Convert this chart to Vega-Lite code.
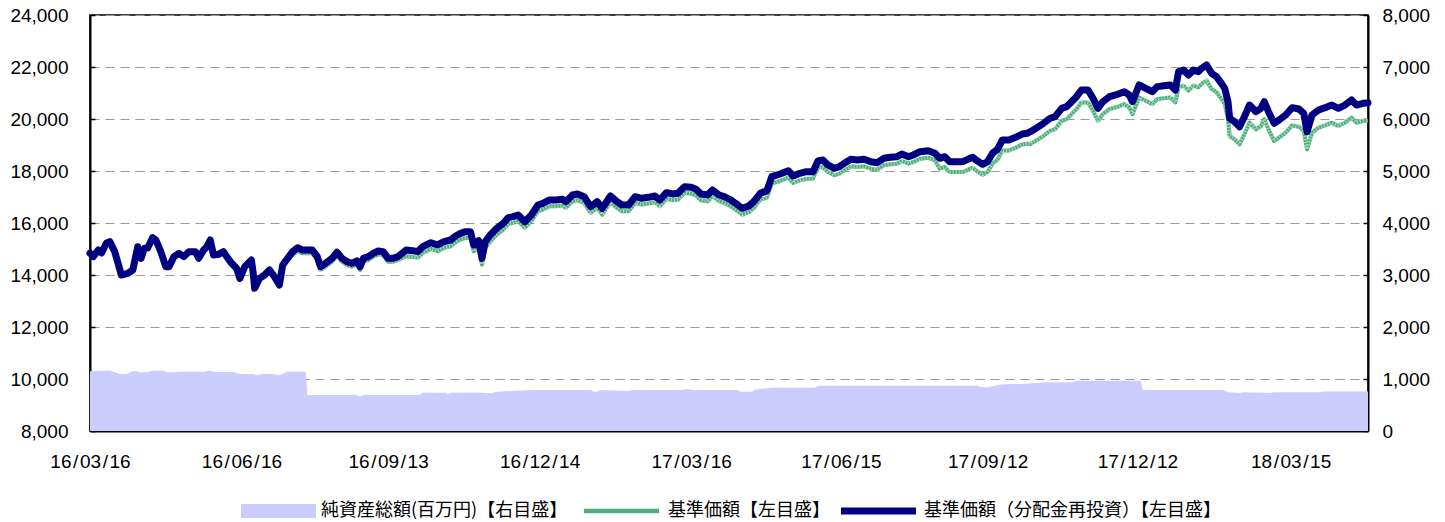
{
 "$schema": "https://vega.github.io/schema/vega-lite/v6.json",
 "width": 1278,
 "height": 416,
 "autosize": {"type": "none"},
 "padding": {"left": 90, "top": 15, "right": 77, "bottom": 91},
 "background": "white",
 "config": {
  "view": {"stroke": "#000", "strokeWidth": 1.5},
  "font": "Liberation Sans",
  "axis": {"labelFont": "Liberation Sans", "labelFontSize": 19, "labelColor": "#000", "domainColor": "#000", "domainWidth": 2, "tickColor": "#000", "tickWidth": 1.5, "tickSize": -5, "title": null},
  "legend": {"orient": "none", "direction": "horizontal", "title": null, "symbolSize": 100, "labelFont": "Noto Sans CJK JP", "labelFontSize": 18, "labelColor": "#000", "labelLimit": 0, "symbolStrokeWidth": 0, "symbolOpacity": 1}
 },
 "datasets": {
  "assets": [
   {"d": "2016-03-16", "v": 1150}, {"d": "2016-03-22", "v": 1160}, {"d": "2016-03-28", "v": 1165}, {"d": "2016-04-03", "v": 1096}, {"d": "2016-04-07", "v": 1096}, {"d": "2016-04-12", "v": 1160}, {"d": "2016-04-15", "v": 1130}, {"d": "2016-04-20", "v": 1130}, {"d": "2016-04-23", "v": 1165}, {"d": "2016-04-29", "v": 1160}, {"d": "2016-05-02", "v": 1130}, {"d": "2016-05-05", "v": 1130}, {"d": "2016-05-10", "v": 1141}, {"d": "2016-05-24", "v": 1141}, {"d": "2016-05-27", "v": 1160}, {"d": "2016-06-01", "v": 1135}, {"d": "2016-06-11", "v": 1135}, {"d": "2016-06-15", "v": 1096}, {"d": "2016-06-23", "v": 1096}, {"d": "2016-06-25", "v": 1070}, {"d": "2016-06-29", "v": 1096}, {"d": "2016-07-05", "v": 1096}, {"d": "2016-07-09", "v": 1070}, {"d": "2016-07-14", "v": 1141}, {"d": "2016-07-25", "v": 1141}, {"d": "2016-07-26", "v": 692}, {"d": "2016-08-25", "v": 692}, {"d": "2016-08-27", "v": 665}, {"d": "2016-08-30", "v": 692}, {"d": "2016-10-02", "v": 692}, {"d": "2016-10-04", "v": 737}, {"d": "2016-10-18", "v": 737}, {"d": "2016-10-19", "v": 700}, {"d": "2016-10-21", "v": 737}, {"d": "2016-11-05", "v": 740}, {"d": "2016-11-15", "v": 725}, {"d": "2016-11-18", "v": 756}, {"d": "2016-12-10", "v": 788}, {"d": "2017-01-14", "v": 788}, {"d": "2017-01-16", "v": 756}, {"d": "2017-01-18", "v": 756}, {"d": "2017-01-20", "v": 788}, {"d": "2017-02-06", "v": 770}, {"d": "2017-02-09", "v": 788}, {"d": "2017-03-11", "v": 788}, {"d": "2017-03-13", "v": 808}, {"d": "2017-03-17", "v": 788}, {"d": "2017-04-13", "v": 788}, {"d": "2017-04-15", "v": 756}, {"d": "2017-04-22", "v": 756}, {"d": "2017-04-24", "v": 800}, {"d": "2017-05-04", "v": 833}, {"d": "2017-05-30", "v": 833}, {"d": "2017-06-01", "v": 872}, {"d": "2017-09-06", "v": 872}, {"d": "2017-09-08", "v": 840}, {"d": "2017-09-12", "v": 840}, {"d": "2017-09-21", "v": 897}, {"d": "2017-10-05", "v": 910}, {"d": "2017-10-17", "v": 936}, {"d": "2017-11-03", "v": 936}, {"d": "2017-11-05", "v": 968}, {"d": "2017-12-14", "v": 968}, {"d": "2017-12-15", "v": 801}, {"d": "2017-12-17", "v": 788}, {"d": "2018-02-02", "v": 788}, {"d": "2018-02-05", "v": 744}, {"d": "2018-02-12", "v": 730}, {"d": "2018-02-15", "v": 744}, {"d": "2018-03-02", "v": 730}, {"d": "2018-03-05", "v": 744}, {"d": "2018-04-02", "v": 744}, {"d": "2018-04-04", "v": 760}, {"d": "2018-05-01", "v": 760}
  ],
  "lines": [
   {"d": "2016-03-16", "nav": 14834, "base": 14834}, {"d": "2016-03-18", "nav": 14706, "base": 14706}, {"d": "2016-03-21", "nav": 14962, "base": 14962}, {"d": "2016-03-23", "nav": 14846, "base": 14846}, {"d": "2016-03-26", "nav": 15231, "base": 15231}, {"d": "2016-03-28", "nav": 15282, "base": 15282}, {"d": "2016-03-31", "nav": 14898, "base": 14898}, {"d": "2016-04-02", "nav": 14462, "base": 14462}, {"d": "2016-04-04", "nav": 14000, "base": 14000}, {"d": "2016-04-08", "nav": 14066, "base": 14066}, {"d": "2016-04-11", "nav": 14193, "base": 14193}, {"d": "2016-04-14", "nav": 15089, "base": 15089}, {"d": "2016-04-16", "nav": 14642, "base": 14642}, {"d": "2016-04-18", "nav": 15026, "base": 15026}, {"d": "2016-04-20", "nav": 15038, "base": 15038}, {"d": "2016-04-23", "nav": 15435, "base": 15435}, {"d": "2016-04-25", "nav": 15346, "base": 15346}, {"d": "2016-04-28", "nav": 14898, "base": 14898}, {"d": "2016-05-01", "nav": 14321, "base": 14321}, {"d": "2016-05-03", "nav": 14321, "base": 14321}, {"d": "2016-05-06", "nav": 14706, "base": 14706}, {"d": "2016-05-09", "nav": 14834, "base": 14834}, {"d": "2016-05-12", "nav": 14706, "base": 14706}, {"d": "2016-05-15", "nav": 14898, "base": 14898}, {"d": "2016-05-19", "nav": 14898, "base": 14898}, {"d": "2016-05-21", "nav": 14642, "base": 14642}, {"d": "2016-05-24", "nav": 14962, "base": 14962}, {"d": "2016-05-26", "nav": 15089, "base": 15089}, {"d": "2016-05-28", "nav": 15346, "base": 15346}, {"d": "2016-05-30", "nav": 14770, "base": 14770}, {"d": "2016-06-02", "nav": 14796, "base": 14796}, {"d": "2016-06-05", "nav": 14898, "base": 14898}, {"d": "2016-06-07", "nav": 14706, "base": 14706}, {"d": "2016-06-10", "nav": 14450, "base": 14450}, {"d": "2016-06-13", "nav": 14258, "base": 14258}, {"d": "2016-06-15", "nav": 13873, "base": 13873}, {"d": "2016-06-18", "nav": 14321, "base": 14321}, {"d": "2016-06-22", "nav": 14577, "base": 14577}, {"d": "2016-06-23", "nav": 14129, "base": 14129}, {"d": "2016-06-24", "nav": 13488, "base": 13488}, {"d": "2016-06-27", "nav": 13873, "base": 13873}, {"d": "2016-06-30", "nav": 14000, "base": 14000}, {"d": "2016-07-03", "nav": 14193, "base": 14193}, {"d": "2016-07-06", "nav": 13937, "base": 13937}, {"d": "2016-07-09", "nav": 13615, "base": 13615}, {"d": "2016-07-11", "nav": 14385, "base": 14385}, {"d": "2016-07-14", "nav": 14642, "base": 14642},
   {"d": "2016-07-17", "nav": 14898, "base": 14768}, {"d": "2016-07-20", "nav": 15051, "base": 14921}, {"d": "2016-07-23", "nav": 14962, "base": 14832}, {"d": "2016-07-26", "nav": 14962, "base": 14832}, {"d": "2016-07-29", "nav": 14962, "base": 14832}, {"d": "2016-08-01", "nav": 14706, "base": 14576}, {"d": "2016-08-03", "nav": 14321, "base": 14191}, {"d": "2016-08-06", "nav": 14450, "base": 14320}, {"d": "2016-08-10", "nav": 14642, "base": 14512}, {"d": "2016-08-13", "nav": 14872, "base": 14742}, {"d": "2016-08-16", "nav": 14642, "base": 14512}, {"d": "2016-08-19", "nav": 14513, "base": 14383}, {"d": "2016-08-22", "nav": 14450, "base": 14320}, {"d": "2016-08-25", "nav": 14539, "base": 14409}, {"d": "2016-08-27", "nav": 14321, "base": 14191}, {"d": "2016-08-29", "nav": 14642, "base": 14512}, {"d": "2016-09-01", "nav": 14706, "base": 14576}, {"d": "2016-09-04", "nav": 14834, "base": 14704}, {"d": "2016-09-07", "nav": 14924, "base": 14794}, {"d": "2016-09-10", "nav": 14898, "base": 14768}, {"d": "2016-09-13", "nav": 14642, "base": 14512}, {"d": "2016-09-16", "nav": 14642, "base": 14512}, {"d": "2016-09-19", "nav": 14706, "base": 14576},
   {"d": "2016-09-24", "nav": 14962, "base": 14722}, {"d": "2016-09-28", "nav": 14936, "base": 14696}, {"d": "2016-10-01", "nav": 14898, "base": 14658}, {"d": "2016-10-04", "nav": 15089, "base": 14849}, {"d": "2016-10-09", "nav": 15243, "base": 15003}, {"d": "2016-10-13", "nav": 15154, "base": 14914}, {"d": "2016-10-17", "nav": 15282, "base": 15042}, {"d": "2016-10-21", "nav": 15346, "base": 15106}, {"d": "2016-10-24", "nav": 15500, "base": 15260}, {"d": "2016-10-27", "nav": 15603, "base": 15363}, {"d": "2016-10-30", "nav": 15667, "base": 15427}, {"d": "2016-11-02", "nav": 15667, "base": 15427}, {"d": "2016-11-04", "nav": 15154, "base": 14914}, {"d": "2016-11-07", "nav": 15320, "base": 15080}, {"d": "2016-11-09", "nav": 14642, "base": 14402}, {"d": "2016-11-11", "nav": 15282, "base": 15042}, {"d": "2016-11-14", "nav": 15538, "base": 15298}, {"d": "2016-11-18", "nav": 15795, "base": 15555}, {"d": "2016-11-22", "nav": 15988, "base": 15748}, {"d": "2016-11-25", "nav": 16205, "base": 15965}, {"d": "2016-11-28", "nav": 16244, "base": 16004}, {"d": "2016-12-01", "nav": 16308, "base": 16068}, {"d": "2016-12-05", "nav": 16051, "base": 15811}, {"d": "2016-12-09", "nav": 16308, "base": 16068}, {"d": "2016-12-13", "nav": 16693, "base": 16453}, {"d": "2016-12-16", "nav": 16757, "base": 16517}, {"d": "2016-12-20", "nav": 16885, "base": 16645}, {"d": "2016-12-24", "nav": 16885, "base": 16645}, {"d": "2016-12-28", "nav": 16911, "base": 16671}, {"d": "2016-12-30", "nav": 16821, "base": 16581}, {"d": "2017-01-03", "nav": 17077, "base": 16837}, {"d": "2017-01-06", "nav": 17116, "base": 16876}, {"d": "2017-01-10", "nav": 17013, "base": 16773}, {"d": "2017-01-14", "nav": 16628, "base": 16388}, {"d": "2017-01-18", "nav": 16821, "base": 16581}, {"d": "2017-01-21", "nav": 16564, "base": 16324}, {"d": "2017-01-26", "nav": 17039, "base": 16799}, {"d": "2017-01-30", "nav": 16821, "base": 16581}, {"d": "2017-02-02", "nav": 16693, "base": 16453}, {"d": "2017-02-06", "nav": 16693, "base": 16453}, {"d": "2017-02-10", "nav": 17013, "base": 16773}, {"d": "2017-02-14", "nav": 16950, "base": 16710}, {"d": "2017-02-18", "nav": 16988, "base": 16748}, {"d": "2017-02-22", "nav": 17039, "base": 16799}, {"d": "2017-02-25", "nav": 16885, "base": 16645}, {"d": "2017-03-01", "nav": 17167, "base": 16927}, {"d": "2017-03-05", "nav": 17116, "base": 16876}, {"d": "2017-03-08", "nav": 17142, "base": 16902}, {"d": "2017-03-12", "nav": 17398, "base": 17158}, {"d": "2017-03-16", "nav": 17372, "base": 17132}, {"d": "2017-03-19", "nav": 17295, "base": 17055}, {"d": "2017-03-22", "nav": 17116, "base": 16876}, {"d": "2017-03-26", "nav": 17077, "base": 16837}, {"d": "2017-03-29", "nav": 17270, "base": 17030}, {"d": "2017-04-02", "nav": 17077, "base": 16837}, {"d": "2017-04-05", "nav": 17013, "base": 16773}, {"d": "2017-04-09", "nav": 16885, "base": 16645}, {"d": "2017-04-12", "nav": 16757, "base": 16517}, {"d": "2017-04-16", "nav": 16564, "base": 16324}, {"d": "2017-04-20", "nav": 16654, "base": 16414}, {"d": "2017-04-23", "nav": 16821, "base": 16581}, {"d": "2017-04-27", "nav": 17142, "base": 16902},
   {"d": "2017-05-01", "nav": 17244, "base": 16974}, {"d": "2017-05-04", "nav": 17782, "base": 17512}, {"d": "2017-05-09", "nav": 17885, "base": 17615}, {"d": "2017-05-14", "nav": 18012, "base": 17742}, {"d": "2017-05-17", "nav": 17808, "base": 17538}, {"d": "2017-05-21", "nav": 17911, "base": 17641}, {"d": "2017-05-25", "nav": 17974, "base": 17704}, {"d": "2017-05-29", "nav": 17974, "base": 17704}, {"d": "2017-06-01", "nav": 18385, "base": 18115}, {"d": "2017-06-04", "nav": 18423, "base": 18153}, {"d": "2017-06-07", "nav": 18231, "base": 17961}, {"d": "2017-06-11", "nav": 18104, "base": 17834}, {"d": "2017-06-14", "nav": 18167, "base": 17897}, {"d": "2017-06-17", "nav": 18295, "base": 18025}, {"d": "2017-06-21", "nav": 18449, "base": 18179}, {"d": "2017-06-25", "nav": 18423, "base": 18153}, {"d": "2017-06-29", "nav": 18449, "base": 18179}, {"d": "2017-07-03", "nav": 18359, "base": 18089}, {"d": "2017-07-07", "nav": 18320, "base": 18050}, {"d": "2017-07-11", "nav": 18488, "base": 18218}, {"d": "2017-07-15", "nav": 18526, "base": 18256}, {"d": "2017-07-19", "nav": 18551, "base": 18281}, {"d": "2017-07-22", "nav": 18654, "base": 18384}, {"d": "2017-07-26", "nav": 18551, "base": 18281}, {"d": "2017-07-29", "nav": 18616, "base": 18346}, {"d": "2017-08-02", "nav": 18743, "base": 18473}, {"d": "2017-08-07", "nav": 18782, "base": 18512}, {"d": "2017-08-11", "nav": 18680, "base": 18410},
   {"d": "2017-08-14", "nav": 18488, "base": 18088}, {"d": "2017-08-17", "nav": 18551, "base": 18151}, {"d": "2017-08-20", "nav": 18359, "base": 17959}, {"d": "2017-08-24", "nav": 18359, "base": 17959}, {"d": "2017-08-28", "nav": 18359, "base": 17959}, {"d": "2017-08-31", "nav": 18449, "base": 18049}, {"d": "2017-09-03", "nav": 18526, "base": 18126}, {"d": "2017-09-05", "nav": 18423, "base": 18023}, {"d": "2017-09-09", "nav": 18257, "base": 17857}, {"d": "2017-09-12", "nav": 18359, "base": 17959}, {"d": "2017-09-15", "nav": 18680, "base": 18280}, {"d": "2017-09-18", "nav": 18834, "base": 18434}, {"d": "2017-09-21", "nav": 19192, "base": 18792}, {"d": "2017-09-25", "nav": 19192, "base": 18792}, {"d": "2017-09-29", "nav": 19295, "base": 18895}, {"d": "2017-10-03", "nav": 19423, "base": 19023}, {"d": "2017-10-06", "nav": 19449, "base": 19049},
   {"d": "2017-10-08", "nav": 19512, "base": 19032}, {"d": "2017-10-12", "nav": 19667, "base": 19187}, {"d": "2017-10-16", "nav": 19834, "base": 19354}, {"d": "2017-10-20", "nav": 20027, "base": 19547}, {"d": "2017-10-23", "nav": 20090, "base": 19610}, {"d": "2017-10-27", "nav": 20411, "base": 19931}, {"d": "2017-10-30", "nav": 20474, "base": 19994}, {"d": "2017-11-02", "nav": 20666, "base": 20186}, {"d": "2017-11-05", "nav": 20858, "base": 20378}, {"d": "2017-11-08", "nav": 21116, "base": 20636}, {"d": "2017-11-12", "nav": 21116, "base": 20636}, {"d": "2017-11-15", "nav": 20796, "base": 20316}, {"d": "2017-11-18", "nav": 20411, "base": 19931}, {"d": "2017-11-21", "nav": 20666, "base": 20186}, {"d": "2017-11-25", "nav": 20858, "base": 20378}, {"d": "2017-11-30", "nav": 20950, "base": 20470}, {"d": "2017-12-04", "nav": 21051, "base": 20571}, {"d": "2017-12-07", "nav": 20923, "base": 20443}, {"d": "2017-12-09", "nav": 20666, "base": 20186}, {"d": "2017-12-13", "nav": 21308, "base": 20828}, {"d": "2017-12-17", "nav": 21180, "base": 20700}, {"d": "2017-12-21", "nav": 21051, "base": 20571}, {"d": "2017-12-24", "nav": 21244, "base": 20764}, {"d": "2017-12-28", "nav": 21282, "base": 20802}, {"d": "2018-01-01", "nav": 21308, "base": 20828}, {"d": "2018-01-04", "nav": 21116, "base": 20636},
   {"d": "2018-01-06", "nav": 21820, "base": 21220}, {"d": "2018-01-09", "nav": 21885, "base": 21285}, {"d": "2018-01-12", "nav": 21692, "base": 21092}, {"d": "2018-01-15", "nav": 21885, "base": 21285}, {"d": "2018-01-18", "nav": 21820, "base": 21220}, {"d": "2018-01-20", "nav": 21950, "base": 21350}, {"d": "2018-01-23", "nav": 22077, "base": 21477}, {"d": "2018-01-26", "nav": 21757, "base": 21157}, {"d": "2018-01-29", "nav": 21628, "base": 21028}, {"d": "2018-02-01", "nav": 21372, "base": 20772}, {"d": "2018-02-03", "nav": 21180, "base": 20580},
   {"d": "2018-02-05", "nav": 20666, "base": 19986}, {"d": "2018-02-06", "nav": 20027, "base": 19347}, {"d": "2018-02-09", "nav": 19897, "base": 19217}, {"d": "2018-02-12", "nav": 19705, "base": 19025}, {"d": "2018-02-15", "nav": 20090, "base": 19410}, {"d": "2018-02-18", "nav": 20538, "base": 19858}, {"d": "2018-02-22", "nav": 20282, "base": 19602}, {"d": "2018-02-25", "nav": 20411, "base": 19731}, {"d": "2018-02-27", "nav": 20666, "base": 19986}, {"d": "2018-03-02", "nav": 20219, "base": 19539}, {"d": "2018-03-05", "nav": 19834, "base": 19154}, {"d": "2018-03-08", "nav": 19962, "base": 19282}, {"d": "2018-03-12", "nav": 20154, "base": 19474}, {"d": "2018-03-16", "nav": 20436, "base": 19756}, {"d": "2018-03-20", "nav": 20385, "base": 19705}, {"d": "2018-03-23", "nav": 20219, "base": 19539}, {"d": "2018-03-25", "nav": 19512, "base": 18832}, {"d": "2018-03-28", "nav": 20154, "base": 19474}, {"d": "2018-04-01", "nav": 20346, "base": 19666}, {"d": "2018-04-05", "nav": 20436, "base": 19756}, {"d": "2018-04-09", "nav": 20538, "base": 19858}, {"d": "2018-04-13", "nav": 20411, "base": 19731}, {"d": "2018-04-17", "nav": 20538, "base": 19858}, {"d": "2018-04-21", "nav": 20731, "base": 20051}, {"d": "2018-04-24", "nav": 20538, "base": 19858}, {"d": "2018-04-28", "nav": 20604, "base": 19924}, {"d": "2018-05-01", "nav": 20620, "base": 19940}
  ]
 },
 "encoding": {
  "x": {
   "field": "d", "type": "temporal",
   "scale": {"type": "utc", "nice": false, "domain": [{"year": 2016, "month": 3, "date": 16, "utc": true}, {"year": 2018, "month": 5, "date": 1, "utc": true}]},
   "axis": {
    "format": "%y\u200a/\u200a%m\u200a/\u200a%d", "grid": false, "labelFlush": false, "labelOverlap": false, "labelBound": false, "labelPadding": 26,
    "values": [
     {"year": 2016, "month": 3, "date": 16, "utc": true}, {"year": 2016, "month": 6, "date": 16, "utc": true}, {"year": 2016, "month": 9, "date": 13, "utc": true}, {"year": 2016, "month": 12, "date": 14, "utc": true}, {"year": 2017, "month": 3, "date": 16, "utc": true}, {"year": 2017, "month": 6, "date": 15, "utc": true}, {"year": 2017, "month": 9, "date": 12, "utc": true}, {"year": 2017, "month": 12, "date": 12, "utc": true}, {"year": 2018, "month": 3, "date": 15, "utc": true}
    ]
   }
  }
 },
 "layer": [
  {
   "data": {"name": "assets"},
   "mark": {"type": "area", "opacity": 1},
   "encoding": {
    "y": {"field": "v", "type": "quantitative", "scale": {"domain": [0, 8000], "nice": false, "zero": true},
     "axis": {"orient": "right", "values": [0, 1000, 2000, 3000, 4000, 5000, 6000, 7000, 8000], "format": ",d", "grid": false, "labelPadding": 19}},
    "color": {
     "datum": "純資産総額(百万円)【右目盛】", "type": "nominal",
     "scale": {"range": ["#ccccff"]},
     "legend": {"legendX": 147, "legendY": 487, "labelOffset": 66, "symbolType": "M-1,-1.4H14V1.4H-1Z"}
    }
   }
  },
  {
   "data": {"name": "lines"},
   "layer": [
    {
     "mark": {"type": "line", "strokeWidth": 4, "strokeJoin": "round"},
     "encoding": {
      "y": {"field": "base", "type": "quantitative", "scale": {"domain": [8000, 24000], "nice": false, "zero": false},
       "axis": {"orient": "left", "values": [8000, 10000, 12000, 14000, 16000, 18000, 20000, 22000, 24000], "format": ",d", "grid": true, "gridDash": [9, 6], "gridColor": "#999999", "gridWidth": 1, "labelPadding": 27}},
      "color": {
       "datum": "基準価額【左目盛】", "type": "nominal",
       "scale": {"range": ["#4fae7c"]},
       "legend": {"legendX": 490, "legendY": 487, "labelOffset": 70, "symbolType": "M-1,-0.45H14V0.45H-1Z", "symbolFillColor": "#4fae7c"}
      }
     }
    },
    {
     "mark": {"type": "line", "strokeWidth": 4, "strokeJoin": "round", "color": "#a8e0bf", "strokeDash": [1, 2]},
     "encoding": {
      "y": {"field": "base", "type": "quantitative"}
     }
    },
    {
     "mark": {"type": "line", "strokeWidth": 7, "strokeJoin": "round", "strokeCap": "round"},
     "encoding": {
      "y": {"field": "nav", "type": "quantitative"},
      "stroke": {
       "datum": "基準価額（分配金再投資）【左目盛】", "type": "nominal",
       "scale": {"range": ["#000080"]},
       "legend": {"legendX": 747, "legendY": 487, "labelOffset": 69, "symbolType": "M-1,-0.7H14V0.7H-1Z", "symbolFillColor": "#000080"}
      }
     }
    }
   ],
   "resolve": {"scale": {"color": "independent"}}
  }
 ],
 "resolve": {"scale": {"y": "independent", "color": "independent"}}
}
